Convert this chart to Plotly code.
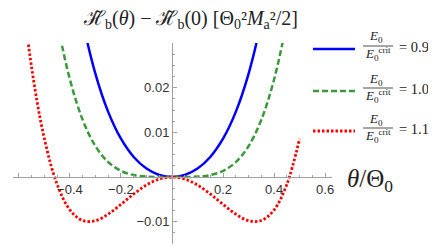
import plotly.graph_objects as go

# ---- data ----
theta_blue = [-0.40, -0.35, -0.30, -0.25, -0.20, -0.15, -0.10, -0.05, 0.0,
              0.05, 0.10, 0.15, 0.20, 0.25, 0.30, 0.35, 0.40]
h_blue = [0.0506, 0.0349, 0.0231, 0.01458, 0.00857, 0.00448, 0.00189, 0.00046, 0.0,
          0.00046, 0.00189, 0.00448, 0.00857, 0.01458, 0.0231, 0.0349, 0.0506]

theta_green = [-0.50, -0.45, -0.40, -0.35, -0.30, -0.25, -0.20, -0.15, -0.10, -0.05, 0.0,
               0.05, 0.10, 0.15, 0.20, 0.25, 0.30, 0.35, 0.40, 0.45, 0.50]
h_green = [0.0533, 0.0350, 0.02184, 0.0128, 0.00691, 0.00333, 0.00137, 0.00043, 0.00009, 0.00001, 0.0,
           0.00001, 0.00009, 0.00043, 0.00137, 0.00333, 0.00691, 0.0128, 0.02184, 0.0350, 0.0533]

theta_red = [-0.60, -0.55, -0.50, -0.45, -0.40, -0.35, -0.30, -0.25, -0.20, -0.15, -0.10, -0.05, 0.0,
             0.05, 0.10, 0.15, 0.20, 0.25, 0.30, 0.35, 0.40, 0.45, 0.50]
h_red = [0.0477, 0.0245, 0.00856, -0.00166, -0.00738, -0.00975, -0.00978, -0.00832, -0.00613, -0.0038, -0.0018, -0.00047, 0.0,
         -0.00047, -0.0018, -0.0038, -0.00613, -0.00832, -0.00978, -0.00975, -0.00738, -0.00166, 0.00856]

ratio_labels = ["0.9", "1.0", "1.1"]
x_ticks = [-0.6, -0.4, -0.2, 0.2, 0.4, 0.6]
x_tick_text = ["\u22120.6", "\u22120.4", "\u22120.2", "0.2", "0.4", "0.6"]
y_ticks = [-0.01, 0.01, 0.02]
y_tick_text = ["\u22120.01", "0.01", "0.02"]

# the page body adds an 8px offset, so the figure is drawn 8px smaller
OFF = 8
W, H = 436 - OFF, 248 - OFF
ML, MR, MT, MB = 13 - OFF, 436 - 332, 43 - OFF, 4
PW, PH = W - ML - MR, H - MT - MB


def px(x):
    return (x - OFF - ML) / PW


def py(y):
    return (H - MB - (y - OFF)) / PH


colors = ["#0000ff", "#3a9a3a", "#ff0000"]
dashes = ["solid", "6px,3px", "2.5px,2px"]
widths = [2.5, 2.5, 2.8]

fig = go.Figure()
for th, hv, c, d, w in zip([theta_blue, theta_green, theta_red],
                           [h_blue, h_green, h_red], colors, dashes, widths):
    fig.add_trace(go.Scatter(x=th, y=hv, mode="lines",
                             line=dict(color=c, dash=d, width=w, shape="spline", smoothing=1),
                             showlegend=False, hoverinfo="skip"))

axis_col = "#a0a0a0"
fig.update_layout(
    width=W, height=H,
    margin=dict(l=ML, r=MR, t=MT, b=MB, pad=0),
    paper_bgcolor="white", plot_bgcolor="white",
    showlegend=False,
    font=dict(family="Liberation Sans, Arial, sans-serif", color="#333", size=13),
    xaxis=dict(range=[-0.623, 0.627], anchor="free", position=1 / 3,
               showgrid=False, zeroline=False, showline=True, linecolor=axis_col, linewidth=1,
               tickmode="array", tickvals=x_ticks, ticktext=x_tick_text,
               ticks="inside", ticklen=4, tickcolor=axis_col, tickwidth=1,
               tickfont=dict(size=13, color="#333"),
               minor=dict(tick0=0, dtick=0.05, ticks="inside", ticklen=2, tickcolor=axis_col)),
    yaxis=dict(range=[-0.015, 0.030], anchor="free", position=0.4984,
               showgrid=False, zeroline=False, showline=True, linecolor=axis_col, linewidth=1,
               tickmode="array", tickvals=y_ticks, ticktext=y_tick_text,
               ticks="inside", ticklen=4, tickcolor=axis_col, tickwidth=1,
               tickfont=dict(size=13, color="#333"),
               minor=dict(tick0=0, dtick=0.0025, ticks="inside", ticklen=2, tickcolor=axis_col)),
)

serif = "Liberation Serif, Times New Roman, serif"
# title
fig.add_annotation(
    text="\u210b\u0303<sub>b</sub>(<i>\u03b8</i>) \u2212 \u210b\u0303<sub>b</sub>(0) "
         "[\u0398<sub>0</sub>\u00b2<i>M</i><sub>a</sub>\u00b2/2]",
    x=px(190), y=py(20), xref="paper", yref="paper", showarrow=False,
    xanchor="center", yanchor="middle", font=dict(family=serif, size=20, color="#222"))
# x-axis label
fig.add_annotation(
    text="<i>\u03b8</i>/\u0398<sub>0</sub>",
    x=px(345), y=py(180), xref="paper", yref="paper", showarrow=False,
    xanchor="left", yanchor="middle", font=dict(family=serif, size=25, color="#222"))

# legend (drawn by hand to show the fraction)
legend_y = [49, 91, 131]
for ly, c, d, w, lab in zip(legend_y, colors, dashes, widths, ratio_labels):
    fig.add_shape(type="line", xref="paper", yref="paper",
                  x0=px(313), x1=px(355), y0=py(ly), y1=py(ly),
                  line=dict(color=c, dash=d, width=w))
    fig.add_shape(type="line", xref="paper", yref="paper",
                  x0=px(363), x1=px(393), y0=py(ly - 3), y1=py(ly - 3),
                  line=dict(color="#222", width=0.8))
    fig.add_annotation(text="<i>E</i><sub>0</sub>", x=px(376), y=py(ly - 12),
                       xref="paper", yref="paper", showarrow=False,
                       xanchor="center", yanchor="middle",
                       font=dict(family=serif, size=13, color="#222"))
    fig.add_annotation(text="<i>E</i><sub>0</sub><sup>crit</sup>", x=px(378), y=py(ly + 5),
                       xref="paper", yref="paper", showarrow=False,
                       xanchor="center", yanchor="middle",
                       font=dict(family=serif, size=13, color="#222"))
    fig.add_annotation(text="= " + lab, x=px(431), y=py(ly - 2),
                       xref="paper", yref="paper", showarrow=False,
                       xanchor="right", yanchor="middle",
                       font=dict(family=serif, size=14.5, color="#222"))

fig.write_html("out.html")
